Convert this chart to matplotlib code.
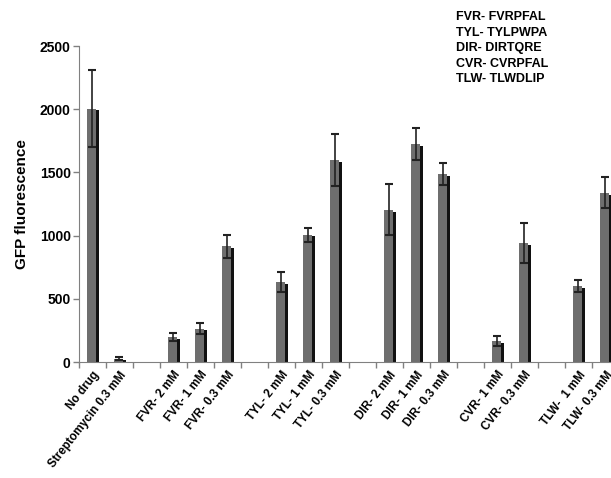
import matplotlib
matplotlib.use("Agg")
import matplotlib.pyplot as plt
import numpy as np

plt.rcParams['font.family'] = ['Liberation Sans', 'DejaVu Sans']
plt.rcParams['font.weight'] = 'bold'

labels = ["No drug", "Streptomycin 0.3 mM", "",
          "FVR- 2 mM", "FVR- 1 mM", "FVR- 0.3 mM", "",
          "TYL- 2 mM", "TYL- 1 mM", "TYL- 0.3 mM", "",
          "DIR- 2 mM", "DIR- 1 mM", "DIR- 0.3 mM", "",
          "CVR- 1 mM", "CVR- 0.3 mM", "",
          "TLW-  1 mM", "TLW- 0.3 mM"]
values = [2005, 27, None,
          198, 265, 915, None,
          632, 1008, 1600, None,
          1205, 1725, 1488, None,
          168, 940, None,
          600, 1340]
errors = [305, 13, None,
          35, 47, 92, None,
          82, 55, 205, None,
          200, 128, 88, None,
          38, 160, None,
          45, 125]
legend_text = "FVR- FVRPFAL\nTYL- TYLPWPA\nDIR- DIRTQRE\nCVR- CVRPFAL\nTLW- TLWDLIP"

fig = plt.figure(figsize=(6.11, 4.78), dpi=100)
ax = fig.add_axes([79/611, 116/478, 540/611, 316/478])

idx = [i for i, v in enumerate(values) if v is not None]
vals = np.array([values[i] for i in idx], dtype=float)
errs = np.array([errors[i] for i in idx], dtype=float)
x = np.array(idx, dtype=float)

w = 0.34
sh = 0.11
# shadow bars
ax.bar(x - 0.04 + sh, vals - 15, width=w, color='#111111', zorder=2, linewidth=0)
ax.bar(x - 0.04, vals, width=w, color='#6e6e6e', zorder=3, linewidth=0)
ax.errorbar(x - 0.01, vals, yerr=errs, fmt='none', ecolor='#222222',
            elinewidth=1.2, capsize=3, capthick=1.5, zorder=4)

ax.set_xlim(-0.5, len(labels) - 0.5)
ax.set_ylim(0, 2500)
ax.set_yticks([0, 500, 1000, 1500, 2000, 2500])
ax.tick_params(axis='y', labelsize=10, colors='#808080', labelcolor='black',
               length=4, width=1, pad=2)
for t in ax.get_yticklabels():
    t.set_fontweight('bold')

ax.set_xticks(np.arange(len(labels)))
ax.set_xticklabels(labels, rotation=52, ha='right', rotation_mode='anchor',
                   fontsize=8.5, fontweight='bold')
ax.tick_params(axis='x', length=0, pad=5)
ax.set_xticks(np.arange(len(labels) + 1) - 0.5, minor=True)
ax.tick_params(axis='x', which='minor', length=4, width=1, colors='#808080')

for s in ['top', 'right']:
    ax.spines[s].set_visible(False)
ax.spines['left'].set_color('#808080')
ax.spines['bottom'].set_color('#808080')

ax.set_ylabel("GFP fluorescence", fontsize=11, fontweight='bold', labelpad=8)

fig.text(456/611, 1 - 11/478, legend_text, fontsize=9, fontweight='bold',
         va='top', ha='left', linespacing=1.4)

fig.savefig("out.png", dpi=100)
